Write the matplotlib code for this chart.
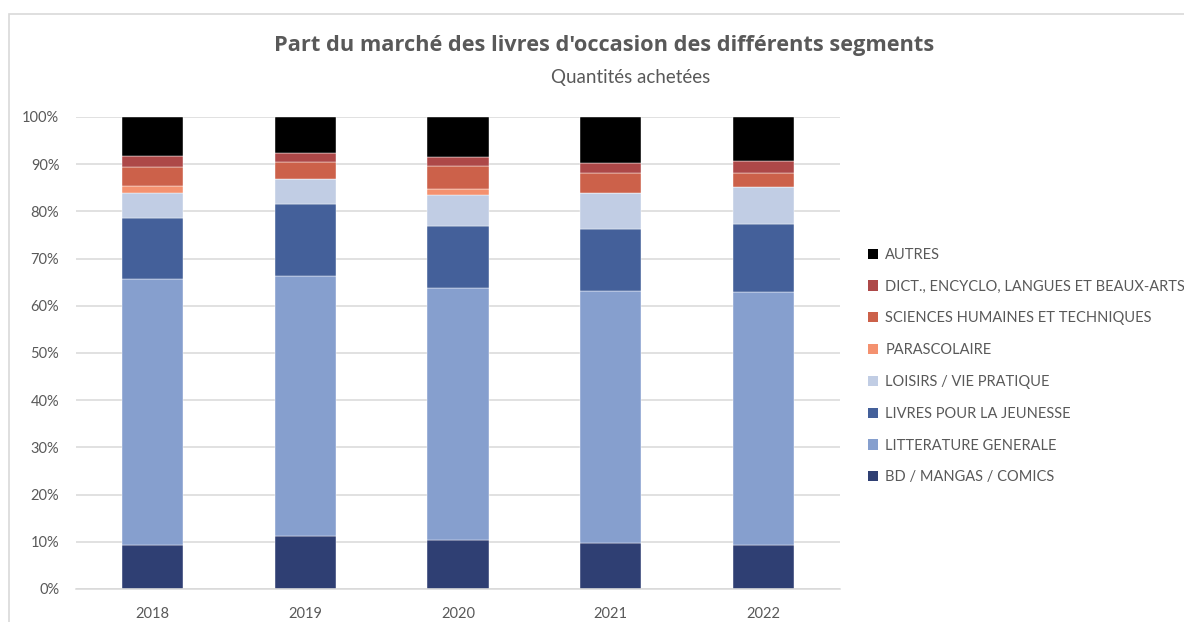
import numpy as np
import matplotlib.pyplot as plt
from matplotlib.patches import Patch, Rectangle

plt.rcParams['font.family'] = ['Lato', 'DejaVu Sans']

years = ['2018', '2019', '2020', '2021', '2022']

# shares of units bought (%), one list per segment, bottom to top
bd_mangas = [9.3, 11.2, 10.4, 9.7, 9.3]
litterature = [56.3, 55.2, 53.4, 53.5, 53.6]
jeunesse = [12.9, 15.2, 13.2, 13.1, 14.5]
loisirs = [5.4, 5.3, 6.5, 7.5, 7.7]
parascolaire = [1.4, 0.0, 1.2, 0.0, 0.0]
sciences = [4.2, 3.6, 4.9, 4.4, 3.1]
dictionnaires = [2.2, 1.9, 1.9, 2.1, 2.5]
autres = [8.3, 7.6, 8.5, 9.7, 9.3]

segments = [
    ('BD / MANGAS / COMICS', bd_mangas, '#2f3f73'),
    ('LITTERATURE GENERALE', litterature, '#869fce'),
    ('LIVRES POUR LA JEUNESSE', jeunesse, '#44609a'),
    ('LOISIRS / VIE PRATIQUE', loisirs, '#c1cde4'),
    ('PARASCOLAIRE', parascolaire, '#f4916f'),
    ('SCIENCES HUMAINES ET TECHNIQUES', sciences, '#cc614a'),
    ('DICT., ENCYCLO, LANGUES ET BEAUX-ARTS', dictionnaires, '#ad4848'),
    ('AUTRES', autres, '#000000'),
]

grey = '#595959'

fig = plt.figure(figsize=(11.84, 6.22), dpi=100)
fig.patches.append(Rectangle((9 / 1184, -0.1), 1.2, 1 - 14 / 622 + 0.1,
                             transform=fig.transFigure, fill=False,
                             edgecolor='#d9d9d9', linewidth=1.2))

ax = fig.add_axes([76 / 1184, 1 - 589 / 622, (840 - 76) / 1184, (589 - 117) / 622])

x = np.arange(len(years))
bottom = np.zeros(len(years))
handles = []
for name, vals, color in segments:
    vals = np.array(vals)
    ax.bar(x, vals, 0.4, bottom=bottom, color=color, edgecolor='white', linewidth=0.3)
    bottom += vals
    handles.append(Patch(facecolor=color, label=name))

ax.set_xlim(-0.5, len(years) - 0.5)
ax.set_ylim(0, 100)
ax.set_yticks(np.arange(0, 101, 10))
ax.set_yticklabels(['{}%'.format(v) for v in range(0, 101, 10)])
ax.set_xticks(x)
ax.set_xticklabels(years)
ax.tick_params(length=0, labelsize=10.5, colors=grey)
ax.tick_params(axis='y', pad=12)
ax.tick_params(axis='x', pad=13)
ax.grid(axis='y', color='#d9d9d9', linewidth=1.1)
ax.set_axisbelow(True)
for side in ['top', 'right', 'left']:
    ax.spines[side].set_visible(False)
ax.spines['bottom'].set_color('#d9d9d9')
ax.spines['bottom'].set_linewidth(1.1)

fig.text(604 / 1184, 1 - 45 / 622, "Part du marché des livres d'occasion des différents segments",
         ha='center', va='center', fontsize=15.7, fontweight='bold', color=grey,
         family=['Open Sans', 'DejaVu Sans'])
fig.text(631 / 1184, 1 - 77 / 622, 'Quantités achetées',
         ha='center', va='center', fontsize=13.5, color=grey)

leg = fig.legend(handles[::-1], [h.get_label() for h in handles[::-1]],
                 loc='upper left', bbox_to_anchor=(862 / 1184, 1 - 242 / 622),
                 frameon=False, fontsize=10.5, handlelength=0.7, handleheight=0.7,
                 handletextpad=0.5, labelspacing=1.22, borderaxespad=0)
for t in leg.get_texts():
    t.set_color(grey)

fig.savefig('out.png', dpi=100)
